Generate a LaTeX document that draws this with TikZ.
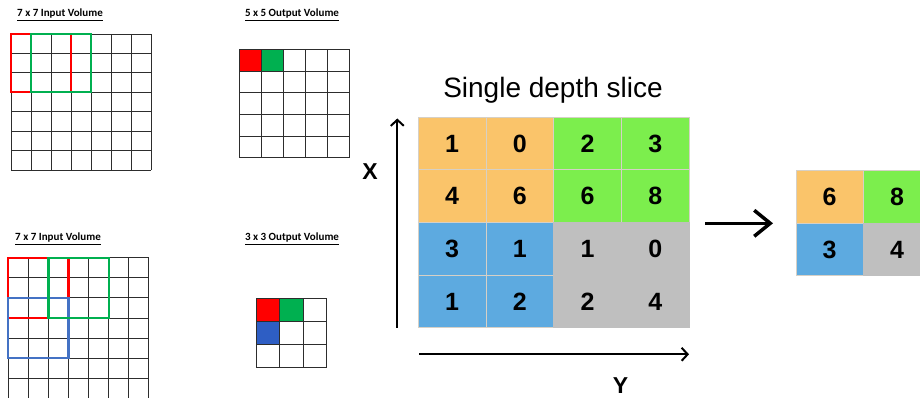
\documentclass[tikz,border=0pt]{standalone}
\usepackage{fontspec}
\setmainfont{Liberation Sans}
\newfontfamily\calib{Carlito}
\usetikzlibrary{arrows.meta}
\definecolor{cOrange}{RGB}{250,196,106}
\definecolor{cGreen}{RGB}{124,238,77}
\definecolor{cBlue}{RGB}{93,170,224}
\definecolor{cGray}{RGB}{191,191,191}
\definecolor{cSep}{RGB}{214,208,198}
\definecolor{sRed}{RGB}{255,0,0}
\definecolor{sGreen}{RGB}{0,176,80}
\definecolor{sBlue}{RGB}{68,114,196}
\definecolor{sBlueFill}{RGB}{46,94,196}
\definecolor{gridc}{RGB}{45,45,45}
\tikzset{
  gl/.style={draw=gridc,line width=0.9pt},
  win/.style={line width=2.3pt},
  ttl/.style={font=\calib\bfseries\fontsize{11}{13}\selectfont,inner sep=0pt},
  cellbox/.style={minimum width=67.7pt,minimum height=52.6pt,inner sep=0pt,draw=cSep,line width=0.8pt,font=\bfseries\fontsize{25}{28}\selectfont},
  axis/.style={line width=2pt,-{Straight Barb[length=6pt,width=13pt]}},
  axlbl/.style={font=\bfseries\fontsize{23}{26}\selectfont,inner sep=0pt}
}
\begin{document}
\begin{tikzpicture}[x=1pt,y=-1pt]
\useasboundingbox (0,0) rectangle (920,398);
\clip (0,0) rectangle (920,398);
% ---------- top-left 7x7 input ----------
\node[ttl] (t1) at (60,15) {\underline{7 x 7 Input Volume}};
\foreach \i in {0,...,7}{
  \draw[gl] ({11+20*\i},34) -- ({11+20*\i},170);
  \draw[gl] (11,{34+19.43*\i}) -- (151,{34+19.43*\i});
}
\draw[win,sRed] (11,34) rectangle (71,92.3);
\draw[win,sGreen] (31,34) rectangle (91,92.3);
% ---------- 5x5 output ----------
\node[ttl] (t2) at (292,15) {\underline{5 x 5 Output Volume}};
\fill[sRed] (239.3,49.3) rectangle (261.4,71);
\fill[sGreen] (261.4,49.3) rectangle (283.5,71);
\foreach \i in {0,...,5}{
  \draw[gl] ({239.3+22.08*\i},49.3) -- ({239.3+22.08*\i},157.7);
  \draw[gl] (239.3,{49.3+21.68*\i}) -- (349.7,{49.3+21.68*\i});
}
% ---------- bottom-left 7x7 input ----------
\node[ttl] (t3) at (58,239) {\underline{7 x 7 Input Volume}};
\foreach \i in {0,...,7}{
  \draw[gl] ({8.3+20.06*\i},257.7) -- ({8.3+20.06*\i},398.4);
  \draw[gl] (8.3,{257.7+20.1*\i}) -- (148.7,{257.7+20.1*\i});
}
\draw[win,sRed] (8.3,257.7) rectangle (68.5,318);
\draw[win,sBlue] (8.3,298) rectangle (68.5,358.2);
\draw[win,sGreen] (48.4,257.7) rectangle (108.7,318);
% ---------- 3x3 output ----------
\node[ttl] (t4) at (292,239) {\underline{3 x 3 Output Volume}};
\fill[sRed] (256,298.7) rectangle (279.6,321.6);
\fill[sGreen] (279.6,298.7) rectangle (303.1,321.6);
\fill[sBlueFill] (256,321.6) rectangle (279.6,344.4);
\foreach \i in {0,...,3}{
  \draw[gl] ({256+23.57*\i},298.7) -- ({256+23.57*\i},367.3);
  \draw[gl] (256,{298.7+22.87*\i}) -- (326.7,{298.7+22.87*\i});
}
% ---------- single depth slice ----------
\node[font=\fontsize{28}{32}\selectfont,inner sep=0pt] (title) at (553,90) {Single depth slice};
\foreach \r/\c/\v/\col/\bd in {0/0/1/cOrange/cSep,0/1/0/cOrange/cSep,0/2/2/cGreen/cSep,0/3/3/cGreen/cSep,
                          1/0/4/cOrange/cSep,1/1/6/cOrange/cSep,1/2/6/cGreen/cSep,1/3/8/cGreen/cSep,
                          2/0/3/cBlue/cSep,2/1/1/cBlue/cSep,2/2/1/cGray/cGray,2/3/0/cGray/cGray,
                          3/0/1/cBlue/cSep,3/1/2/cBlue/cSep,3/2/2/cGray/cGray,3/3/4/cGray/cGray}{
  \node[cellbox,fill=\col,draw=\bd] (m\r\c) at ({418.3+33.85+67.7*\c},{117.3+26.3+52.6*\r}) {\v};
}
% axes
\coordinate (xa0) at (397.3,327.5);
\coordinate (xa1) at (397.3,118.5);
\coordinate (ya0) at (419,354.3);
\coordinate (ya1) at (689,354.3);
\draw[axis] (xa0) -- (xa1);
\draw[axis] (ya0) -- (ya1);
\node[axlbl] (xl) at (370,172) {X};
\node[axlbl] (yl) at (620.5,386) {Y};
% ---------- result ----------
\foreach \r/\c/\v/\col/\bd in {0/0/6/cOrange/cSep,0/1/8/cGreen/cSep,1/0/3/cBlue/cSep,1/1/4/cGray/cGray}{
  \node[cellbox,minimum width=67.3pt,minimum height=52.5pt,fill=\col,draw=\bd] (o\r\c) at ({796+33.65+67.3*\c},{170.7+26.25+52.5*\r}) {\v};
}
\coordinate (ba0) at (705,223.3);
\coordinate (ba1) at (773,223.3);
\draw[line width=3.5pt,-{Straight Barb[length=16pt,width=26pt]}] (ba0) -- (ba1);
\end{tikzpicture}
\end{document}
